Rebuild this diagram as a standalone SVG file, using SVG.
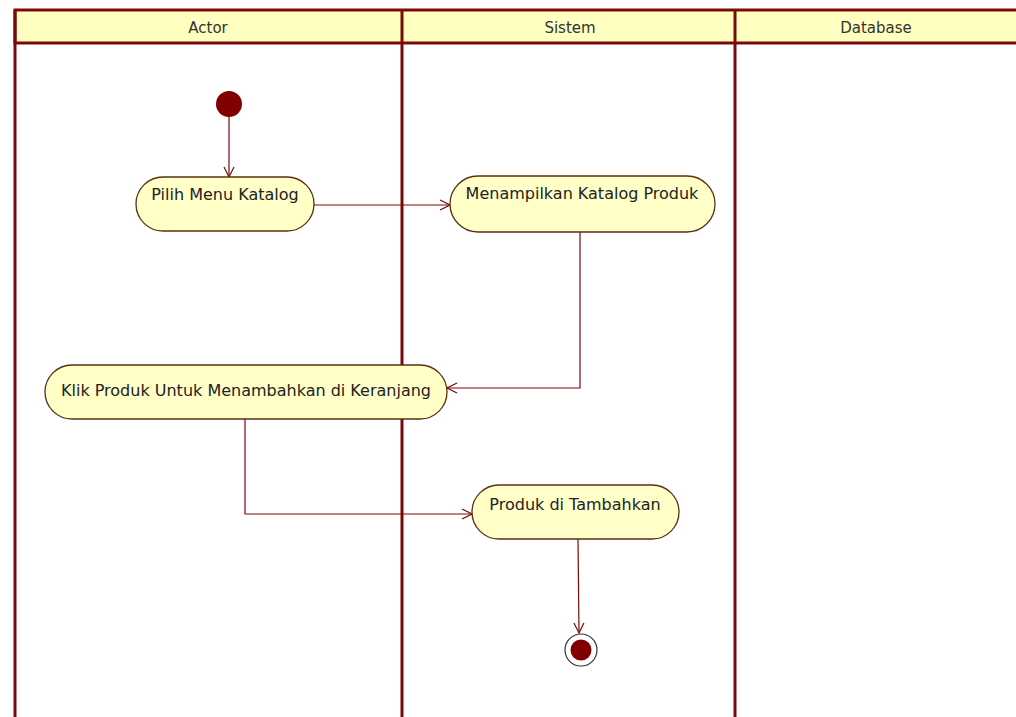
<svg xmlns="http://www.w3.org/2000/svg" width="1016" height="717" viewBox="0 0 1016 717">
<style>
.lane{fill:none;stroke:#7a0a0a;stroke-width:3}
.hdr{fill:#ffffc0;stroke:#7a0a0a;stroke-width:3}
.ht{font-family:"DejaVu Sans",sans-serif;font-size:15px;fill:#333;text-anchor:middle}
.act{fill:#ffffc8;stroke:#5a3010;stroke-width:1.3}
.at{font-family:"DejaVu Sans",sans-serif;font-size:16px;fill:#222;text-anchor:middle}
.edge{fill:none;stroke:#7a0a0a;stroke-width:1.2}
</style>
<defs>
<marker id="arr" viewBox="0 0 12 12" refX="11" refY="6" markerWidth="12" markerHeight="12" markerUnits="userSpaceOnUse" orient="auto">
<path d="M1,1 L11,6 L1,11" fill="none" stroke="#7a0a0a" stroke-width="1.2"/>
</marker>
</defs>
<rect width="1016" height="717" fill="#ffffff"/>
<g id="lanes">
<rect class="hdr" x="15" y="10" width="1003" height="33"/>
<line class="lane" x1="15" y1="10" x2="15" y2="720"/>
<line class="lane" x1="402" y1="10" x2="402" y2="720"/>
<line class="lane" x1="735" y1="10" x2="735" y2="720"/>
<text class="ht" x="208" y="33">Actor</text>
<text class="ht" x="570" y="33">Sistem</text>
<text class="ht" x="876" y="33">Database</text>
</g>
<g id="connectors">
<line class="edge" x1="229" y1="117" x2="229" y2="177" marker-end="url(#arr)"/>
<line class="edge" x1="314" y1="205" x2="450" y2="205" marker-end="url(#arr)"/>
<polyline class="edge" points="580,232 580,388 447,388" marker-end="url(#arr)"/>
<polyline class="edge" points="245,419 245,514 472,514" marker-end="url(#arr)"/>
<line class="edge" x1="578" y1="539" x2="579" y2="633" marker-end="url(#arr)"/>
</g>
<g id="start">
<circle cx="229" cy="104" r="13" fill="#800000"/>
</g>
<g id="n1">
<rect class="act" x="136" y="177" width="178" height="54" rx="27"/>
<text class="at" x="225" y="200">Pilih Menu Katalog</text>
</g>
<g id="n2">
<rect class="act" x="450" y="176" width="265" height="56" rx="28"/>
<text class="at" x="582" y="199">Menampilkan Katalog Produk</text>
</g>
<g id="n3">
<rect class="act" x="45" y="365" width="402" height="54" rx="27"/>
<text class="at" x="246" y="396">Klik Produk Untuk Menambahkan di Keranjang</text>
</g>
<g id="n4">
<rect class="act" x="472" y="485" width="207" height="54" rx="27"/>
<text class="at" x="575" y="510">Produk di Tambahkan</text>
</g>
<g id="end">
<circle cx="581" cy="650" r="16" fill="#ffffff" stroke="#333" stroke-width="1.2"/>
<circle cx="581" cy="650" r="10.5" fill="#800000"/>
</g>
</svg>
